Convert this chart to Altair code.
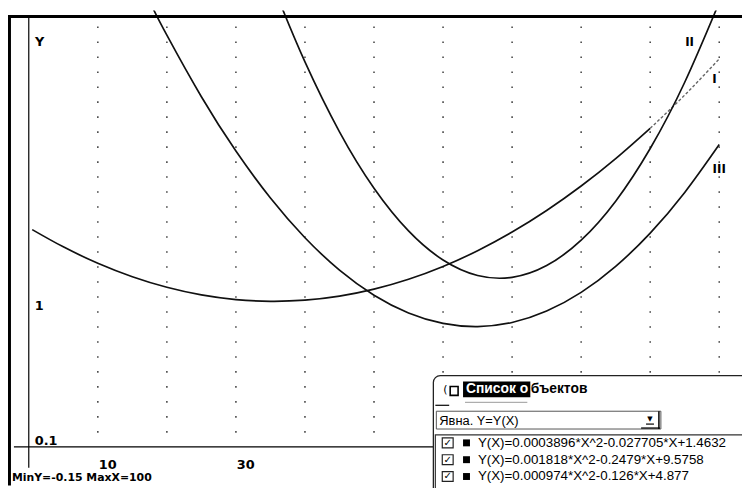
import altair as alt
import pandas as pd

# ---- curve values ----
x_I = [0.5, 5, 10, 15, 20, 25, 30, 35, 40, 45, 50, 55, 60, 65, 70, 75, 80, 85, 90]
y_I = [1.4495, 1.3344, 1.2251, 1.1353, 1.0649, 1.0141, 0.9827, 0.9708, 0.9784, 1.0054,
       1.0520, 1.1180, 1.2035, 1.3084, 1.4329, 1.5768, 1.7402, 1.9231, 2.1255]
x_I_tail = [90, 95, 100]
y_I_tail = [2.1255, 2.3474, 2.5887]

x_II = [36.5, 40, 45, 50, 55, 60, 65, 70, 75, 80, 85, 90, 95, 100]
y_II = [2.9495, 2.5686, 2.1018, 1.7258, 1.4408, 1.2466, 1.1434, 1.1310, 1.2096, 1.3790,
        1.6394, 1.9906, 2.4328, 2.9658]

x_III = [18, 20, 25, 30, 35, 40, 45, 50, 55, 60, 65, 70, 75, 80, 85, 90, 95, 100]
y_III = [2.9246, 2.7466, 2.3358, 1.9736, 1.6602, 1.3954, 1.1794, 1.0120, 0.8934, 0.8234,
         0.8022, 0.8296, 0.9058, 1.0306, 1.2042, 1.4264, 1.6974, 2.0170]

curve_names = ["II", "I", "III"]
curve_name_x = [95.7, 99.3, 100.0]
curve_name_y = [2.70, 2.455, 1.855]

grid_x = [10, 20, 30, 40, 50, 60, 70, 80, 90, 100]
grid_y = [round(0.1 * k, 1) for k in range(1, 29)]

x_tick_labels = ["10", "30"]
x_tick_values = [10, 30]
y_tick_labels = ["1", "0.1"]
y_tick_values = [1.0, 0.1]

equations = [
    "Y(X)=0.0003896*X^2-0.027705*X+1.4632",
    "Y(X)=0.001818*X^2-0.2479*X+9.5758",
    "Y(X)=0.000974*X^2-0.126*X+4.877",
]
dialog_title_a = "Список о"
dialog_title_b = "бъектов"
dialog_combo = "Явна. Y=Y(X)"
status_text = "MinY=-0.15 MaxX=100"

W, H = 742, 480
xs = alt.Scale(domain=[-3.0086, 103.295], nice=False, zero=False)
ys = alt.Scale(domain=[-0.2574, 2.911], nice=False, zero=False)
X = lambda f: alt.X(f, type="quantitative", scale=xs, axis=None)
Y = lambda f: alt.Y(f, type="quantitative", scale=ys, axis=None)

one = pd.DataFrame({"k": [0]})


def rule(x=None, x2=None, y=None, y2=None, color="black", sw=1.0):
    enc = {k: v for k, v in dict(x=x, x2=x2, y=y, y2=y2).items() if v is not None}
    return alt.Chart(one).mark_rule(color=color, strokeWidth=sw).encode(**enc)


def box(x, x2, y, y2, fill="white", stroke=None, sw=1.0, **extra):
    kw = dict(fill=fill, **extra)
    if stroke:
        kw["stroke"] = stroke
        kw["strokeWidth"] = sw
    return alt.Chart(one).mark_rect(**kw).encode(
        x=alt.value(x), x2=alt.value(x2), y=alt.value(y), y2=alt.value(y2))


def txt(s, x, y, size, weight="normal", color="black", font="Liberation Sans", align="left"):
    return alt.Chart(one).mark_text(
        text=s, fontSize=size, fontWeight=weight, color=color, font=font,
        align=align, baseline="middle").encode(x=alt.value(x), y=alt.value(y))


# grid of dots
dots_df = pd.DataFrame([(gx, gy) for gx in grid_x for gy in grid_y], columns=["x", "y"])
dots = alt.Chart(dots_df).mark_square(size=2.5, color="#333", opacity=0.9).encode(
    x=X("x"), y=Y("y"))

# axes through origin
y_axis = alt.Chart(pd.DataFrame({"x": [0.0], "y": [-0.14]})).mark_rule(
    color="black", strokeWidth=1.2).encode(x=X("x"), y=Y("y"), y2=alt.value(6))
x_axis = alt.Chart(pd.DataFrame({"x": [-2.15], "y": [0.0]})).mark_rule(
    color="black", strokeWidth=1.3).encode(x=X("x"), x2=alt.value(W), y=Y("y"))


def curve(xv, yv, color="#111", sw=1.7, dash=None):
    df = pd.DataFrame({"x": xv, "y": yv})
    kw = dict(color=color, strokeWidth=sw, interpolate="natural", clip=True)
    if dash:
        kw["strokeDash"] = dash
    return alt.Chart(df).mark_line(**kw).encode(x=X("x"), y=Y("y"))


c1 = curve(x_I, y_I)
c1t = curve(x_I_tail, y_I_tail, color="#666", sw=1.4, dash=[3, 2])
c2 = curve(x_II, y_II)
c3 = curve(x_III, y_III)

names_df = pd.DataFrame({"t": curve_names, "x": curve_name_x, "y": curve_name_y})
names = alt.Chart(names_df).mark_text(fontSize=12, fontWeight="bold", font="DejaVu Sans",
                                      color="black").encode(x=X("x"), y=Y("y"), text="t:N")

xt_df = pd.DataFrame({"t": x_tick_labels, "v": x_tick_values, "z": [0.0] * len(x_tick_values)})
xticks = alt.Chart(xt_df).mark_text(fontSize=13, fontWeight="bold", font="DejaVu Sans",
                                    dx=10, dy=18, color="black").encode(
    x=X("v"), y=Y("z"), text="t:N")
yt_df = pd.DataFrame({"t": y_tick_labels, "v": y_tick_values, "z": [0.0] * len(y_tick_values)})
yticks = alt.Chart(yt_df).mark_text(fontSize=13, fontWeight="bold", font="DejaVu Sans",
                                    align="left", dx=6, dy=9, color="black").encode(
    x=X("z"), y=Y("v"), text="t:N")
ytitle = alt.Chart(pd.DataFrame({"t": ["Y"], "x": [0.0], "y": [2.7]})).mark_text(
    fontSize=13, fontWeight="bold", font="DejaVu Sans", dx=11, color="black").encode(
    x=X("x"), y=Y("y"), text="t:N")

status = txt(status_text, 4, 473, 11, weight="bold", font="DejaVu Sans")

# dialog window (chart coordinates = page - 8)
dlg = [
    box(430, 760, 369, 500, fill="white", stroke="#222", sw=1.3, cornerRadiusTopLeft=7),
    txt("(", 440, 384, 11, font="DejaVu Sans"),
    box(447, 455, 380, 389, fill="white", stroke="black", sw=1.6),
    box(460, 528, 375, 391, fill="black"),
    txt(dialog_title_a, 463, 383, 14, weight="bold", color="white"),
    txt(dialog_title_b, 528.5, 383, 14, weight="bold"),
    rule(x=alt.value(432), x2=alt.value(446), y=alt.value(399), sw=1.2),
    rule(x=alt.value(462), x2=alt.value(525), y=alt.value(396), color="#999", sw=1.0),
    box(433, 660, 405, 423, fill="white", stroke="#555", sw=1.0),
    txt(dialog_combo, 436, 415, 13),
    txt("▼", 649, 413, 7, font="DejaVu Sans", align="center"),
    rule(x=alt.value(645), x2=alt.value(653), y=alt.value(418), sw=1.2),
    rule(x=alt.value(658), y=alt.value(405), y2=alt.value(423), sw=1.5),
    rule(x=alt.value(640), x2=alt.value(659), y=alt.value(422), sw=1.3),
    box(432, 760, 429, 500, fill="white", stroke="#333", sw=1.2),
]
for i, eq in enumerate(equations):
    yy = 437 + 17 * i
    dlg += [
        box(439, 450, yy - 5, yy + 5, fill="white", stroke="#222", sw=1.2),
        txt("✓", 444.5, yy, 10, weight="bold", font="DejaVu Sans", align="center"),
        box(460, 467, yy - 3.5, yy + 3.5, fill="black"),
        txt(eq, 475, yy, 13.5),
    ]

frame = [
    rule(x=alt.value(-1), x2=alt.value(W), y=alt.value(6), sw=3.2),
    rule(x=alt.value(1.2), y=alt.value(5), y2=alt.value(H), sw=3.6),
]

chart = alt.layer(
    dots, y_axis, x_axis, c1, c1t, c2, c3, names, xticks, yticks, ytitle, status,
    *dlg, *frame
).properties(
    width=W, height=H, padding=0, autosize="none", background="white"
).configure_view(strokeWidth=0)

chart.save("out.html", embed_options={"renderer": "svg", "actions": False})
